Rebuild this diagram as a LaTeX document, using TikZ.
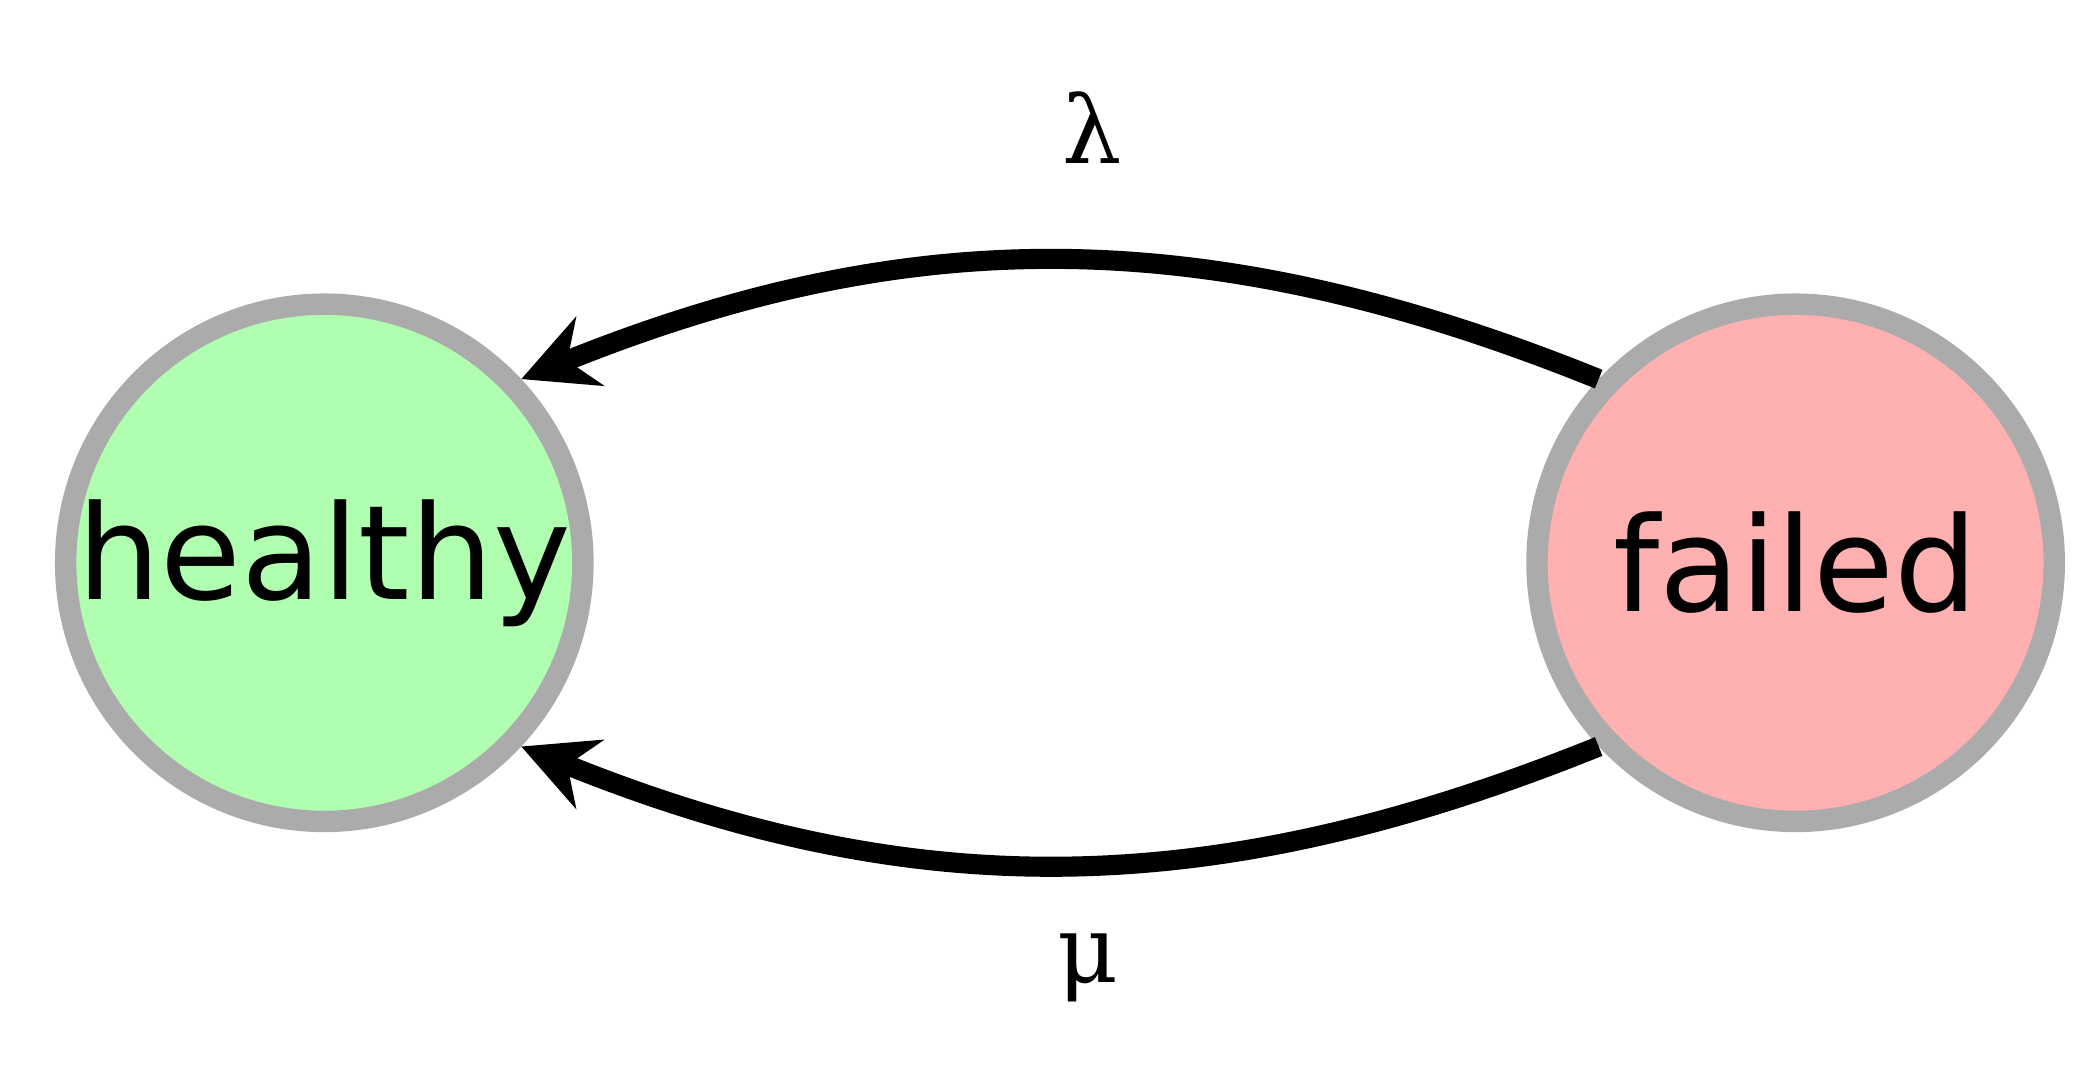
\documentclass[tikz,border=0pt]{standalone}
\usepackage{fontspec}
\setmainfont{DejaVu Sans}
\newfontfamily\greekf{DejaVu Serif}
\usetikzlibrary{arrows.meta}
\begin{document}
\begin{tikzpicture}[x=1pt,y=1pt,
  state/.style={circle,draw=black!33,line width=16pt,minimum size=386pt,inner sep=0pt,font=\fontsize{98}{100}\selectfont},
  trans/.style={line width=15pt,-{Stealth[length=55pt,width=55pt,inset=18pt]}},
  lab/.style={font=\greekf\fontsize{70}{80}\selectfont}]
\useasboundingbox (0,0) rectangle (1547,807);
\node[state,fill={rgb,255:red,176;green,255;blue,176}] (h) at (242,387) {healthy};
\node[state,fill={rgb,255:red,255;green,176;blue,176}] (f) at (1340,387) {failed};
\draw[trans] (f.137) to[out=158,in=22] (h.43);
\draw[trans] (f.223) to[out=202,in=-22] (h.-43);
\node[lab] (l) at (815,712) {λ};
\node[lab] (m) at (812,85) {μ};
\end{tikzpicture}
\end{document}
